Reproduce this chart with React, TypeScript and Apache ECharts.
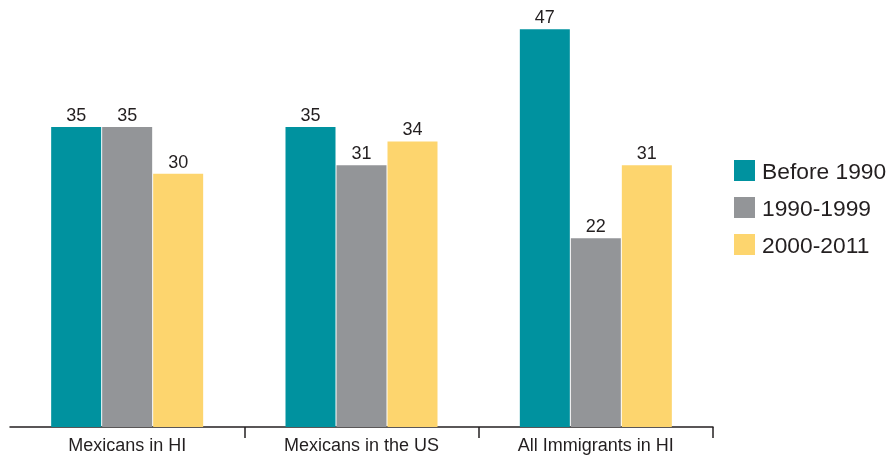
import React, { useEffect, useRef } from "react";
import * as echarts from "echarts";

const categories = ["Mexicans in HI", "Mexicans in the US", "All Immigrants in HI"];
const seriesNames = ["Before 1990", "1990-1999", "2000-2011"];
const before1990 = [35.3, 35.3, 46.8];
const y1990to1999 = [35.3, 30.8, 22.2];
const y2000to2011 = [29.8, 33.6, 30.8];
const colors = ["#00929f", "#939598", "#fdd56e"];

export default function App() {
  const ref = useRef<HTMLDivElement>(null);
  useEffect(() => {
    if (!ref.current) return;
    const chart = echarts.init(ref.current, null, { renderer: "svg" });
    const values = [before1990, y1990to1999, y2000to2011];
    chart.setOption({
      animation: false,
      textStyle: { fontFamily: "Liberation Sans, Arial, sans-serif", color: "#231f20" },
      grid: { left: 10, right: 181, top: 2, bottom: 29, containLabel: false },
      legend: {
        orient: "vertical",
        left: 729,
        top: 154,
        itemWidth: 21,
        itemHeight: 21,
        itemGap: 14,
        icon: "rect",
        textStyle: { fontSize: 22.8, color: "#231f20", lineHeight: 21, padding: [0, 0, 0, 2] },
        data: seriesNames,
      },
      xAxis: {
        type: "category",
        data: categories,
        axisLine: { lineStyle: { color: "#231f20", width: 1.5 } },
        axisTick: {
          show: true,
          length: 11,
          interval: (i: number) => i > 0,
          lineStyle: { color: "#231f20", width: 1.5 },
        },
        axisLabel: { interval: 0, fontSize: 18, color: "#231f20", margin: 9 },
      },
      yAxis: {
        type: "value",
        min: 0,
        max: 50,
        show: false,
        splitLine: { show: false },
      },
      series: seriesNames.map((name, i) => ({
        name,
        type: "bar",
        data: values[i],
        barWidth: 50,
        barGap: "2%",
        itemStyle: { color: colors[i] },
        label: {
          show: true,
          position: "top",
          distance: 3,
          fontSize: 18,
          color: "#231f20",
          formatter: (p: any) => String(Math.round(p.value)),
        },
      })),
    });
    return () => chart.dispose();
  }, []);
  return (
    <div
      ref={ref}
      style={{ position: "fixed", top: 0, left: 0, width: 894, height: 456 }}
    />
  );
}
